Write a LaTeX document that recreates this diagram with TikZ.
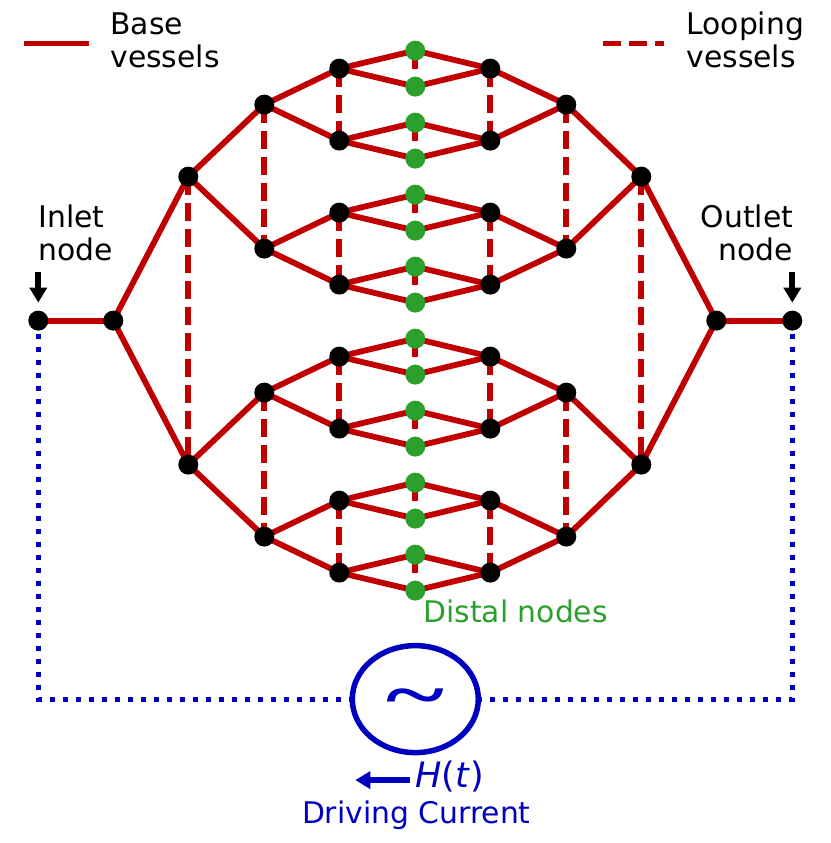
\documentclass[tikz,border=0pt]{standalone}
\usepackage{fontspec}
\setmainfont{DejaVu Sans}
\newfontfamily\tildefont{Liberation Serif}
\usetikzlibrary{arrows.meta, backgrounds, shapes.geometric}
\definecolor{vesselred}{RGB}{192, 0, 0}
\definecolor{distalgreen}{RGB}{44, 160, 44}
\definecolor{currentblue}{RGB}{0, 0, 192}
\tikzset{
	basevessel/.style={vesselred,line width=5.8pt},
	loopvessel/.style={vesselred,line width=5.8pt,dash pattern=on 18pt off 8pt},
	junction/.style={circle,fill=black,inner sep=0pt,minimum size=20pt},
	distal/.style={circle,fill=distalgreen,inner sep=0pt,minimum size=20pt},
	wire/.style={currentblue,line width=5pt,dash pattern=on 5pt off 8pt},
	label/.style={inner sep=0pt,font=\fontsize{29.8}{33}\selectfont},
	pointer/.style={line width=6pt,-{Triangle[width=17pt,length=15pt]}},
}
\begin{document}
\begin{tikzpicture}[x=1pt,y=-1pt]
	\useasboundingbox (-0.3,-0.6) rectangle (829.7,842.4);

	% distal row along the middle
	\foreach \j in {1,...,16}
		\node[distal] (d\j) at (415,{50+36*(\j-1)}) {};

	% both halves of the tree, one side per pass
	\foreach \side/\xa/\xb/\xc/\xd/\xe in {l/38/113/188/264/339, r/792/716/641/566/490} {
		\node[junction] (\side0) at (\xa,320) {};
		\node[junction] (\side1) at (\xb,320) {};
		\foreach \i in {1,2}
			\node[junction] (\side2-\i) at (\xc,{176+288*(\i-1)}) {};
		\foreach \i in {1,...,4}
			\node[junction] (\side3-\i) at (\xd,{104+144*(\i-1)}) {};
		\foreach \i in {1,...,8}
			\node[junction] (\side4-\i) at (\xe,{68+72*(\i-1)}) {};
	}

	% driving current loop
	\node[ellipse,draw=currentblue,line width=5.5pt,inner sep=0pt,minimum width=126pt,minimum height=107pt,outer sep=0pt] (source) at (415,698.5) {};
	\node[text=currentblue,inner sep=0pt,anchor=base,font=\tildefont\bfseries\fontsize{108}{108}\selectfont] (tilde) at (415,718) {\scalebox{1.03}[0.65]{\char`\~}};

	\begin{scope}[on background layer]
		\foreach \side in {l,r} {
			\draw [basevessel] (\side0.center)--(\side1.center);
			\foreach \i in {1,2} {
				\draw [basevessel] (\side1.center)--(\side2-\i.center);
				\pgfmathtruncatemacro{\ca}{2*\i-1}
				\pgfmathtruncatemacro{\cb}{2*\i}
				\draw [basevessel] (\side2-\i.center)--(\side3-\ca.center);
				\draw [basevessel] (\side2-\i.center)--(\side3-\cb.center);
			}
			\foreach \i in {1,...,4} {
				\pgfmathtruncatemacro{\ca}{2*\i-1}
				\pgfmathtruncatemacro{\cb}{2*\i}
				\draw [basevessel] (\side3-\i.center)--(\side4-\ca.center);
				\draw [basevessel] (\side3-\i.center)--(\side4-\cb.center);
				\draw [loopvessel] (\side4-\ca.center)--(\side4-\cb.center);
			}
			\foreach \i in {1,...,8} {
				\pgfmathtruncatemacro{\ca}{2*\i-1}
				\pgfmathtruncatemacro{\cb}{2*\i}
				\draw [basevessel] (\side4-\i.center)--(d\ca.center);
				\draw [basevessel] (\side4-\i.center)--(d\cb.center);
			}
			\draw [loopvessel] (\side2-1.center)--(\side2-2.center);
			\draw [loopvessel] (\side3-1.center)--(\side3-2.center);
			\draw [loopvessel] (\side3-3.center)--(\side3-4.center);
		}
		\foreach \i in {1,...,8} {
			\pgfmathtruncatemacro{\ca}{2*\i-1}
			\pgfmathtruncatemacro{\cb}{2*\i}
			\draw [loopvessel] (d\ca.center)--(d\cb.center);
		}
		\draw [wire] (l0.center) |- (source.west);
		\draw [wire] (r0.center) |- (source.east);
	\end{scope}

	% legend
	\coordinate (baseA) at (24,43);
	\coordinate (baseB) at (89,43);
	\coordinate (loopA) at (603,43);
	\coordinate (loopB) at (664,43);
	\draw [basevessel] (baseA)--(baseB);
	\draw [loopvessel] (loopA)--(loopB);
	\node[label,align=left,anchor=base west] (basetext) at (110,67) {Base\\vessels};
	\node[label,align=left,anchor=base west] (looptext) at (686,67) {Looping\\vessels};

	% inlet and outlet
	\node[label,align=left,anchor=base west] (inlettext) at (38,260) {Inlet\\node};
	\node[label,align=right,anchor=base east] (outlettext) at (793,260) {Outlet\\node};
	\coordinate (inletarrow) at (38,271);
	\coordinate (outletarrow) at (792,271);
	\draw [pointer] (inletarrow)--(38,302);
	\draw [pointer] (outletarrow)--(792,302);

	\node[label,text=distalgreen,anchor=base west] (distaltext) at (423,622) {Distal nodes};

	\node[label,text=currentblue,anchor=base west,font=\fontsize{35}{35}\selectfont] (hoft) at (415,787) {\textit{H}(\textit{t})};
	\coordinate (currentarrow) at (410,779.5);
	\draw [pointer,currentblue] (currentarrow)--(355,779.5);
	\node[label,text=currentblue,anchor=base] (drivetext) at (416,823) {Driving Current};
\end{tikzpicture}
\end{document}
